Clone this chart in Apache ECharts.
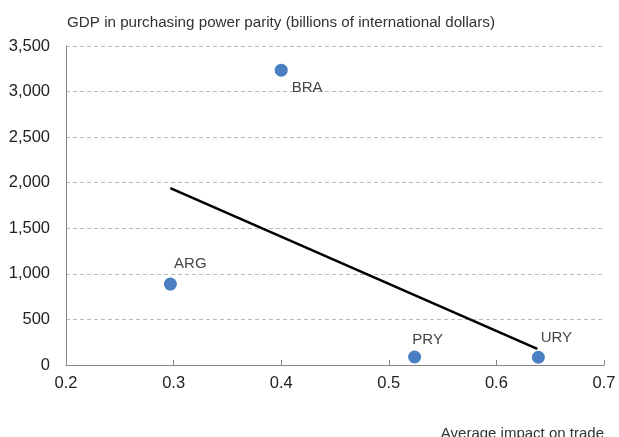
<!DOCTYPE html>
<html><head><meta charset="utf-8">
<script src="https://cdn.jsdelivr.net/npm/echarts@6/dist/echarts.min.js"></script>
<style>html,body{margin:0;padding:0;background:#fff}#c{width:619px;height:437px}</style>
</head><body><div id="c"></div>
<script>
const countries = ['BRA', 'ARG', 'PRY', 'URY'];
const impact = [0.400, 0.297, 0.524, 0.639];
const gdp = [3235, 888, 88, 85];
const labelOffset = [[26, 18], [20, -20], [13, -17], [18, -19]];
const trendX = [0.297, 0.638];
const trendY = [1940, 178];

const FONT = '"Liberation Sans", Arial, sans-serif';
const chart = echarts.init(document.getElementById('c'));
chart.setOption({
  animation: false,
  textStyle: {fontFamily: FONT},
  title: {
    text: 'GDP in purchasing power parity (billions of international dollars)',
    left: 62, top: 10,
    textStyle: {fontSize: 15.2, fontWeight: 'normal', color: '#333', fontFamily: FONT}
  },
  grid: {left: 66, right: 15, top: 46, bottom: 72, containLabel: false, outerBoundsMode: 'none'},
  xAxis: {
    type: 'value', min: 0.2, max: 0.7, interval: 0.1,
    name: 'Average impact on trade', nameLocation: 'end',
    nameGap: 0,
    nameTextStyle: {fontSize: 15, color: '#333', align: 'right', verticalAlign: 'top', padding: [61, 0, 0, 0]},
    axisLine: {show: true, lineStyle: {color: '#888', width: 1}},
    axisTick: {show: true, inside: true, length: 5, lineStyle: {color: '#888'}},
    splitLine: {show: false},
    axisLabel: {fontSize: 16.5, color: '#222', margin: 10, formatter: v => String(Math.round(v * 10) / 10)}
  },
  yAxis: {
    type: 'value', min: 0, max: 3500, interval: 500,
    axisLine: {show: true, lineStyle: {color: '#888', width: 1}},
    axisTick: {show: false},
    splitLine: {show: true, lineStyle: {color: '#bbb', type: [4, 3], width: 1}},
    axisLabel: {fontSize: 16.5, color: '#222', margin: 16,
      formatter: v => v.toLocaleString('en-US')}
  },
  series: [
    {
      type: 'line',
      data: trendX.map((x, i) => [x, trendY[i]]),
      symbol: 'none',
      lineStyle: {color: '#000', width: 2.5},
      z: 2
    },
    {
      type: 'scatter',
      symbolSize: 13,
      itemStyle: {color: '#4a7fc2', opacity: 1},
      data: countries.map((c, i) => ({
        value: [impact[i], gdp[i]], name: c,
        label: {show: true, formatter: c, position: 'inside', offset: labelOffset[i],
          fontSize: 15, color: '#444'}
      })),
      z: 3
    }
  ]
});
</script></body></html>
